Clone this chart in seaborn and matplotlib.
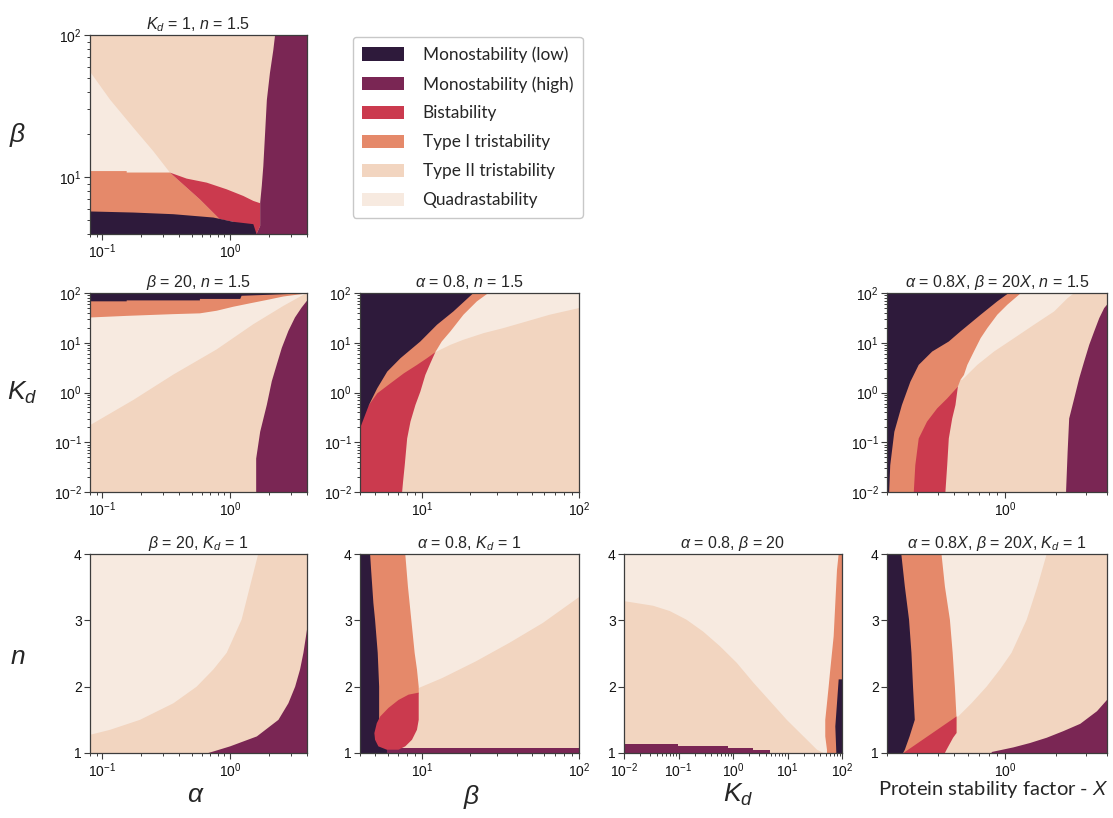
import matplotlib
matplotlib.use("Agg")
import matplotlib.pyplot as plt
from matplotlib.patches import Patch
import seaborn as sns

# ---------------------------------------------------------------------------
# Stability regimes and their colours
# ---------------------------------------------------------------------------
state_names = ["Monostability (low)", "Monostability (high)", "Bistability",
               "Type I tristability", "Type II tristability", "Quadrastability"]
state_colors = ["#2e1a3b", "#7a2654", "#cb3a4e", "#e5896a", "#f2d5c0", "#f7eae0"]
LOW, HIGH, BIST, TYPE1, TYPE2, QUAD = state_colors

# ---------------------------------------------------------------------------
# Region boundaries (x values, y values) for each parameter plane
# ---------------------------------------------------------------------------
# alpha-beta plane (Kd = 1, n = 1.5)
ab_quad_x = [0.08, 0.115, 0.175, 0.25, 0.338, 0.08]
ab_quad_y = [55.3, 35.1, 22.3, 15.3, 10.8, 10.8]
ab_type1_x = [0.08, 0.155, 0.155, 0.338, 0.58, 0.83, 0.83, 0.08]
ab_type1_y = [11.07, 11.07, 10.8, 10.8, 7.0, 5.08, 4.5, 4.5]
ab_bist_x = [0.338, 0.457, 0.656, 0.94, 1.27, 1.52, 1.72, 1.72, 1.61, 1.45, 1.06, 0.83, 0.58]
ab_bist_y = [10.8, 9.8, 9.18, 8.24, 7.4, 6.83, 6.58, 4.56, 4.0, 4.0, 4.87, 5.08, 7.0]
ab_low_x = [0.08, 0.08, 0.175, 0.359, 0.74, 1.06, 1.52, 1.61]
ab_low_y = [4.0, 5.76, 5.66, 5.51, 5.22, 4.87, 4.69, 4.0]
ab_high_x = [2.25, 2.18, 2.05, 1.94, 1.88, 1.82, 1.77, 1.72, 1.72, 1.61, 4.0, 4.0]
ab_high_y = [100, 78.5, 54, 35, 20.6, 12, 8.7, 6.65, 4.56, 4.0, 4.0, 100]

# alpha-Kd plane (beta = 20, n = 1.5)
ak_quad_x = [0.08, 0.08, 0.175, 0.359, 0.785, 1.52, 2.61, 3.63, 4.0, 4.0]
ak_quad_y = [100, 0.22, 0.71, 2.29, 7.35, 23.6, 55, 88, 100, 100]
ak_type1_x = [0.08, 0.08, 0.155, 0.359, 0.58, 0.785, 1.06, 1.43, 1.94, 2.61, 3.63, 4.0]
ak_type1_y = [100, 32.2, 34.7, 37.6, 39, 44, 53, 62, 72.5, 85, 95, 100]
ak_low_x = [0.08, 4.0, 3.3, 2.0, 1.23, 1.2, 0.58, 0.58, 0.155, 0.155, 0.08]
ak_low_y = [100, 100, 97, 92, 88, 76, 76, 71, 71, 68, 68]
ak_high_x = [1.60, 1.60, 1.72, 1.94, 2.12, 2.32, 2.54, 2.86, 3.22, 3.63, 4.0, 4.0]
ak_high_y = [0.01, 0.047, 0.163, 0.57, 1.68, 3.66, 7.9, 17.3, 32.2, 51, 70, 0.01]

# beta-Kd plane (alpha = 0.8, n = 1.5)
bk_quad_x = [12.1, 15.1, 18.3, 24.6, 32.9, 46.2, 65, 100, 100, 15, 10]
bk_quad_y = [6.46, 9.08, 11.5, 15.6, 19.7, 26.8, 36.6, 49.8, 100, 100, 6.46]
bk_bist_x = [4.0, 7.43, 7.53, 7.72, 8.0, 8.4, 9.03, 9.71, 10.45, 11.25, 12.1, 4.0]
bk_bist_y = [0.01, 0.01, 0.0159, 0.0345, 0.119, 0.26, 0.56, 1.04, 2.25, 3.87, 6.46, 6.46]
bk_type1_x = [4.0, 26.4, 22.3, 18.3, 15.1, 13.3, 12.1, 10.7, 9.25, 7.62, 6.26, 5.15, 4.56, 4.0]
bk_type1_y = [100, 100, 68, 36.6, 16.9, 10.6, 6.46, 4.89, 3.59, 2.43, 1.53, 0.96, 0.56, 0.41]
bk_low_x = [4.0, 21.2, 15.8, 12.4, 9.71, 7.25, 5.97, 5.15, 4.56, 4.0]
bk_low_y = [100, 100, 42.7, 23, 10.6, 4.89, 2.63, 1.21, 0.56, 0.19]

# X-Kd plane (alpha = 0.8X, beta = 20X, n = 1.5)
xk_quad_x = [0.557, 0.684, 0.859, 1.13, 1.48, 1.95, 2.34, 2.56, 1.0, 0.5]
xk_quad_y = [1.8, 3.59, 6.66, 12.4, 23, 42.7, 79, 100, 100, 1.8]
xk_bist_x = [0.285, 0.443, 0.454, 0.464, 0.486, 0.508, 0.525, 0.30]
xk_bist_y = [0.01, 0.01, 0.0345, 0.119, 0.30, 0.56, 1.31, 1.31]
xk_type1_x = [0.2, 1.24, 1.03, 0.898, 0.784, 0.716, 0.653, 0.597, 0.57, 0.544, 0.525,
              0.454, 0.396, 0.345, 0.308, 0.294, 0.288, 0.2]
xk_type1_y = [100, 100, 58.2, 36.6, 19.7, 12.4, 6.66, 3.59, 2.25, 1.8, 1.31,
              0.76, 0.48, 0.26, 0.119, 0.0345, 0.01, 0.01]
xk_low_x = [0.2, 1.05, 0.898, 0.716, 0.544, 0.464, 0.37, 0.308, 0.275, 0.245, 0.221,
            0.209, 0.206, 0.2]
xk_low_y = [100, 100, 68, 36.6, 16.9, 10.6, 6.66, 3.59, 1.65, 0.56, 0.162,
            0.0345, 0.01, 0.01]
xk_high_x = [2.29, 2.34, 2.39, 2.56, 2.74, 2.93, 3.14, 3.36, 3.6, 3.85, 4.0, 4.0]
xk_high_y = [0.01, 0.064, 0.30, 0.76, 1.93, 4.19, 9.08, 16.9, 31.3, 49.8, 58.2, 0.01]

# alpha-n plane (beta = 20, Kd = 1)
an_quad_x = [0.08, 1.66, 1.43, 1.23, 0.94, 0.74, 0.547, 0.36, 0.197, 0.115, 0.0824, 0.08]
an_quad_y = [4.0, 4.0, 3.51, 3.01, 2.51, 2.26, 2.0, 1.75, 1.5, 1.35, 1.28, 1.28]
an_high_x = [0.676, 1.0, 1.62, 2.39, 2.86, 3.23, 3.53, 3.75, 4.0, 4.0]
an_high_y = [1.0, 1.1, 1.25, 1.5, 1.75, 2.0, 2.26, 2.51, 2.86, 1.0]

# beta-n plane (alpha = 0.8, Kd = 1)
bn_quad_x = [9.48, 13.4, 21.9, 35.9, 58.7, 100, 100, 7.0, 7.0]
bn_quad_y = [1.98, 2.13, 2.38, 2.66, 2.96, 3.35, 4.0, 4.0, 1.98]
bn_type1_x = [4.0, 7.78, 8.09, 8.5, 8.93, 9.24, 9.48, 9.48, 5.2, 4.0]
bn_type1_y = [4.0, 4.0, 3.51, 3.01, 2.51, 2.26, 2.0, 1.9, 1.45, 1.45]
bn_low_x = [4.0, 4.0, 4.64, 4.71, 4.87, 4.99, 5.19, 5.3, 5.3, 5.6, 5.8, 6.2, 6.2]
bn_low_y = [1.0, 4.0, 4.0, 3.76, 3.26, 3.01, 2.51, 2.0, 1.5, 1.3, 1.15, 1.04, 1.0]
bn_high_x = [5.93, 100, 100, 5.93]
bn_high_y = [1.0, 1.0, 1.07, 1.07]
bn_bist_x = [9.48, 9.48, 9.24, 8.59, 7.78, 7.05, 5.93, 5.24, 4.99, 4.94, 5.12, 5.38,
             6.08, 7.05, 8.17]
bn_bist_y = [1.91, 1.50, 1.35, 1.2, 1.1, 1.05, 1.05, 1.1, 1.2, 1.3, 1.45, 1.55,
             1.68, 1.80, 1.88]

# Kd-n plane (alpha = 0.8, beta = 20)
kn_quad_x = [0.01, 100, 100, 46, 34.7, 19.7, 9.7, 4.8, 2.37, 1.17, 0.576, 0.284, 0.14,
             0.0692, 0.0342, 0.01]
kn_quad_y = [4.0, 4.0, 1.0, 1.0, 1.05, 1.25, 1.5, 1.78, 2.06, 2.36, 2.61, 2.83, 3.01,
             3.14, 3.22, 3.29]
kn_type1_x = [86.9, 100, 100, 53, 53, 49.3, 49.3, 53, 56.9, 61, 65.5, 70.3, 75.4, 80.9]
kn_type1_y = [4.0, 4.0, 1.0, 1.0, 1.05, 1.25, 1.5, 1.75, 2.0, 2.26, 2.51, 2.76, 3.26, 3.76]
kn_low_x = [86.9, 80.9, 75.4, 78.7, 100, 100]
kn_low_y = [2.11, 1.75, 1.40, 1.0, 1.0, 2.11]
kn_high_x = [0.01, 0.01, 0.0986, 0.0986, 0.82, 0.82, 2.37, 2.37, 4.8, 4.8]
kn_high_y = [1.0, 1.14, 1.14, 1.10, 1.10, 1.075, 1.075, 1.05, 1.05, 1.0]

# X-n plane (alpha = 0.8X, beta = 20X, Kd = 1)
xn_quad_x = [0.4, 1.76, 1.55, 1.34, 1.09, 0.931, 0.776, 0.632, 0.527, 0.4]
xn_quad_y = [4.0, 4.0, 3.51, 3.01, 2.51, 2.26, 2.0, 1.75, 1.55, 1.55]
xn_type1_x = [0.2, 0.42, 0.44, 0.471, 0.489, 0.504, 0.515, 0.515, 0.25, 0.2]
xn_type1_y = [4.0, 4.0, 3.51, 3.01, 2.51, 2.0, 1.55, 1.3, 1.0, 1.0]
xn_bist_x = [0.515, 0.515, 0.492, 0.45, 0.44, 0.25]
xn_bist_y = [1.55, 1.30, 1.23, 1.05, 1.0, 1.0]
xn_low_x = [0.2, 0.2, 0.243, 0.255, 0.27, 0.279, 0.285, 0.292, 0.272, 0.255, 0.249]
xn_low_y = [1.0, 4.0, 4.0, 3.51, 3.01, 2.51, 2.0, 1.5, 1.25, 1.05, 1.0]
xn_high_x = [0.832, 0.832, 1.12, 1.40, 1.76, 2.21, 2.78, 3.49, 4.0, 4.0]
xn_high_y = [1.0, 1.015, 1.085, 1.15, 1.23, 1.33, 1.44, 1.63, 1.8, 1.0]

# Axis ranges
alpha_lim = (0.08, 4.0)
beta_lim = (4.0, 100.0)
kd_lim = (0.01, 100.0)
x_lim = (0.2, 4.0)
n_lim = (1.0, 4.0)
n_ticks = [1, 2, 3, 4]

# ---------------------------------------------------------------------------
# Style
# ---------------------------------------------------------------------------
sns.set_theme(style="ticks")
plt.rcParams.update({
    "font.family": ["Liberation Sans", "DejaVu Sans"],
    "mathtext.fontset": "custom",
    "mathtext.rm": "Liberation Sans",
    "mathtext.it": "Liberation Sans:italic",
    "mathtext.bf": "Liberation Sans:bold",
    "axes.edgecolor": "#3c3c3c",
    "axes.linewidth": 0.9,
    "xtick.color": "#3c3c3c",
    "ytick.color": "#3c3c3c",
    "xtick.labelcolor": "#111111",
    "ytick.labelcolor": "#111111",
})

W, H = 1113, 818
fig = plt.figure(figsize=(W / 100, H / 100), dpi=100)
fig.patch.set_facecolor("white")

COLS = [(90, 307), (360, 579), (624, 842), (887, 1107)]
ROWS = [(35, 234), (293, 492), (554, 753)]


def make_axes(row, col):
    x0, x1 = COLS[col]
    y0, y1 = ROWS[row]
    return fig.add_axes([x0 / W, 1 - y1 / H, (x1 - x0) / W, (y1 - y0) / H])


def panel(row, col, xlim, ylim, ylog, title, layers):
    ax = make_axes(row, col)
    ax.set_facecolor(TYPE2)
    ax.set_xscale("log")
    if ylog:
        ax.set_yscale("log")
    for color, xs, ys in layers:
        ax.fill(xs, ys, color=color, lw=0, antialiased=True)
    ax.set_xlim(*xlim)
    ax.set_ylim(*ylim)
    if not ylog:
        ax.set_yticks(n_ticks)
        ax.set_yticklabels([str(t) for t in n_ticks])
    ax.tick_params(which="major", length=4, width=0.8, labelsize=10, pad=2)
    ax.tick_params(which="minor", length=2.3, width=0.7)
    ax.set_title(title, fontsize=11.5, pad=4)
    return ax


panel(0, 0, alpha_lim, beta_lim, True, r"$K_d$ = 1, $n$ = 1.5", [
    (QUAD, ab_quad_x, ab_quad_y), (TYPE1, ab_type1_x, ab_type1_y),
    (BIST, ab_bist_x, ab_bist_y), (LOW, ab_low_x, ab_low_y),
    (HIGH, ab_high_x, ab_high_y)])

panel(1, 0, alpha_lim, kd_lim, True, r"$\beta$ = 20, $n$ = 1.5", [
    (QUAD, ak_quad_x, ak_quad_y), (TYPE1, ak_type1_x, ak_type1_y),
    (LOW, ak_low_x, ak_low_y), (HIGH, ak_high_x, ak_high_y)])

panel(1, 1, beta_lim, kd_lim, True, r"$\alpha$ = 0.8, $n$ = 1.5", [
    (QUAD, bk_quad_x, bk_quad_y), (BIST, bk_bist_x, bk_bist_y),
    (TYPE1, bk_type1_x, bk_type1_y), (LOW, bk_low_x, bk_low_y)])

panel(1, 3, x_lim, kd_lim, True, r"$\alpha$ = 0.8$X$, $\beta$ = 20$X$, $n$ = 1.5", [
    (QUAD, xk_quad_x, xk_quad_y), (BIST, xk_bist_x, xk_bist_y),
    (TYPE1, xk_type1_x, xk_type1_y), (LOW, xk_low_x, xk_low_y),
    (HIGH, xk_high_x, xk_high_y)])

panel(2, 0, alpha_lim, n_lim, False, r"$\beta$ = 20, $K_d$ = 1", [
    (QUAD, an_quad_x, an_quad_y), (HIGH, an_high_x, an_high_y)])

panel(2, 1, beta_lim, n_lim, False, r"$\alpha$ = 0.8, $K_d$ = 1", [
    (QUAD, bn_quad_x, bn_quad_y), (TYPE1, bn_type1_x, bn_type1_y),
    (LOW, bn_low_x, bn_low_y), (HIGH, bn_high_x, bn_high_y),
    (BIST, bn_bist_x, bn_bist_y)])

panel(2, 2, kd_lim, n_lim, False, r"$\alpha$ = 0.8, $\beta$ = 20", [
    (QUAD, kn_quad_x, kn_quad_y), (TYPE1, kn_type1_x, kn_type1_y),
    (LOW, kn_low_x, kn_low_y), (HIGH, kn_high_x, kn_high_y)])

panel(2, 3, x_lim, n_lim, False, r"$\alpha$ = 0.8$X$, $\beta$ = 20$X$, $K_d$ = 1", [
    (QUAD, xn_quad_x, xn_quad_y), (TYPE1, xn_type1_x, xn_type1_y),
    (BIST, xn_bist_x, xn_bist_y), (LOW, xn_low_x, xn_low_y),
    (HIGH, xn_high_x, xn_high_y)])

# Row and column parameter labels
big = dict(fontsize=19, ha="center", va="center")
fig.text(18 / W, 1 - 135 / H, r"$\beta$", **big)
fig.text(22 / W, 1 - 393 / H, r"$K_d$", **big)
fig.text(18 / W, 1 - 657 / H, r"$n$", **big)
fig.text(196 / W, 1 - 795 / H, r"$\alpha$", **big)
fig.text(472 / W, 1 - 797 / H, r"$\beta$", **big)
fig.text(738 / W, 1 - 795 / H, r"$K_d$", **big)
fig.text(993 / W, 1 - 790 / H, r"Protein stability factor - $X$",
         fontsize=14.5, ha="center", va="center", family=["Lato", "DejaVu Sans"])

# Legend of stability regimes
handles = [Patch(facecolor=c, edgecolor="none", label=s)
           for s, c in zip(state_names, state_colors)]
leg = fig.legend(handles=handles, loc="upper left",
                 bbox_to_anchor=(353 / W, 1 - 37 / H), bbox_transform=fig.transFigure,
                 prop={"family": ["Lato", "DejaVu Sans"], "size": 12.4},
                 handlelength=2.44, handleheight=0.82, handletextpad=1.05,
                 labelspacing=0.75, borderpad=0.55, borderaxespad=0,
                 frameon=True, fancybox=True, framealpha=1)
leg.get_frame().set_edgecolor("#c8c8c8")
leg.get_frame().set_linewidth(1.0)

fig.savefig("out.png", dpi=100)
